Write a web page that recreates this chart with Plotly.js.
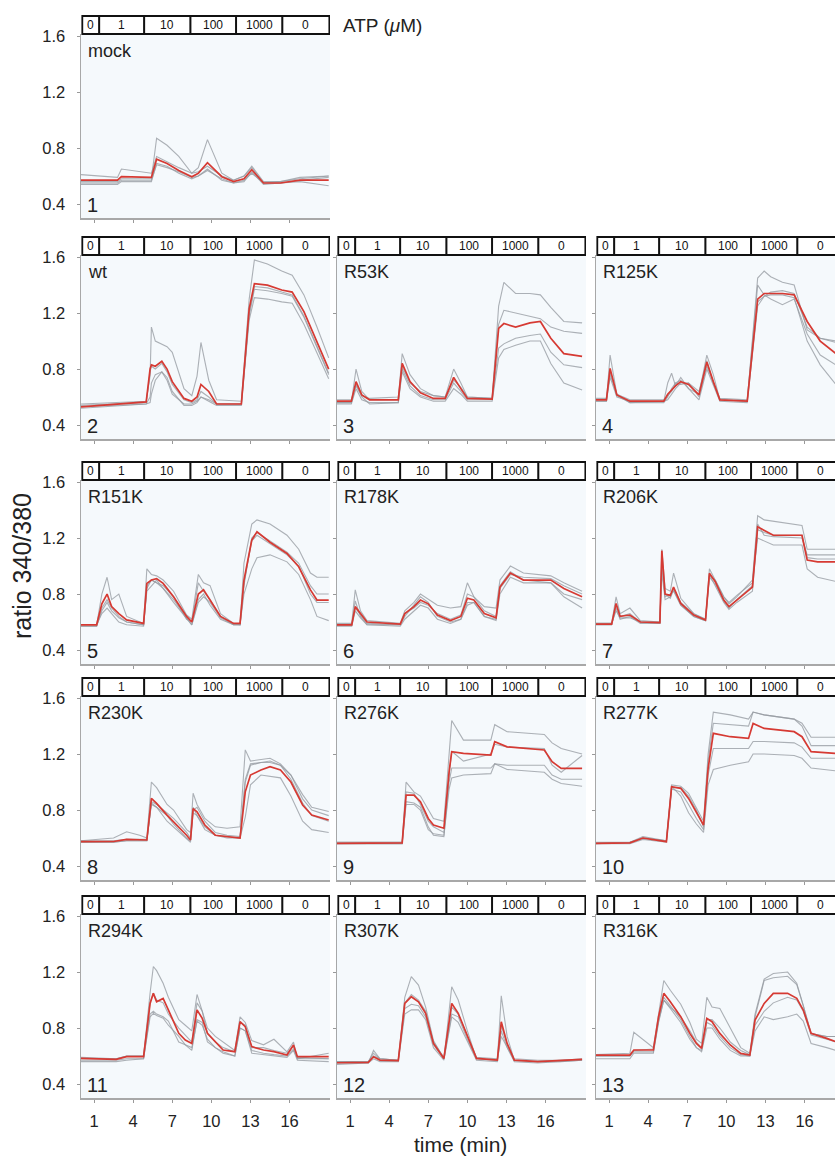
<!DOCTYPE html>
<html><head><meta charset="utf-8">
<script src="https://cdn.plot.ly/plotly-3.0.1.min.js"></script>
<style>html,body{margin:0;padding:0;overflow:hidden;background:#fff}#wrap{width:835px;height:1157px;overflow:hidden}#chart{width:845px;height:1157px}</style>
</head><body><div id="wrap"><div id="chart"></div></div>
<script>
// ---------- labels ----------
const panelNames = ['mock','wt','R53K','R125K','R151K','R178K','R206K','R230K','R276K','R277K','R294K','R307K','R316K'];
const panelNumbers = ['1','2','3','4','5','6','7','8','9','10','11','12','13'];
const atpLabels = ['0','1','10','100','1000','0'];
const atpEdges = [0.1, 1.4, 4.85, 8.4, 11.9, 15.45, 19.05];   // minutes
const xTickVals = [1,4,7,10,13,16];
const xTickText = ['1','4','7','10','13','16'];
const yTickVals = [0.4,0.8,1.2,1.6];
const yTickText = ['0.4','0.8','1.2','1.6'];

// ---------- data (ratio 340/380 vs time, min) ----------
const t_mock = [0, 2.8, 3.1, 5.4, 5.8, 6.6, 7.5, 8.5, 9.0, 9.7, 10.8, 11.7, 12.5, 13.1, 14.0, 15.3, 16.8, 19];
const mock_mean = [0.57, 0.57, 0.595, 0.59, 0.72, 0.69, 0.64, 0.595, 0.62, 0.695, 0.595, 0.56, 0.58, 0.645, 0.55, 0.55, 0.57, 0.57];
const mock_g1 = [0.56, 0.56, 0.58, 0.58, 0.87, 0.82, 0.74, 0.62, 0.66, 0.86, 0.62, 0.57, 0.60, 0.66, 0.55, 0.55, 0.56, 0.53];
const mock_g2 = [0.61, 0.59, 0.65, 0.62, 0.74, 0.70, 0.66, 0.62, 0.63, 0.67, 0.60, 0.57, 0.60, 0.67, 0.56, 0.56, 0.58, 0.60];
const mock_g3 = [0.55, 0.55, 0.57, 0.57, 0.68, 0.66, 0.63, 0.59, 0.60, 0.64, 0.58, 0.55, 0.57, 0.62, 0.55, 0.56, 0.59, 0.60];
const mock_g4 = [0.54, 0.54, 0.56, 0.56, 0.69, 0.67, 0.62, 0.58, 0.60, 0.65, 0.57, 0.55, 0.56, 0.63, 0.54, 0.55, 0.57, 0.59];

const t_wt = [0, 3, 5.0, 5.3, 5.4, 5.7, 6.2, 6.6, 7.0, 7.9, 8.5, 8.9, 9.2, 9.8, 10.4, 12.3, 12.9, 13.3, 14.3, 15.4, 16.2, 17.1, 18.1, 19];
const wt_mean = [0.53, 0.55, 0.565, 0.80, 0.83, 0.82, 0.855, 0.80, 0.71, 0.59, 0.57, 0.60, 0.69, 0.64, 0.55, 0.55, 1.23, 1.41, 1.40, 1.365, 1.35, 1.21, 1.0, 0.80];
const wt_g1 = [0.55, 0.56, 0.57, 0.75, 1.10, 1.0, 0.98, 0.96, 0.92, 0.66, 0.61, 0.75, 0.99, 0.72, 0.58, 0.57, 1.30, 1.58, 1.55, 1.50, 1.47, 1.33, 1.10, 0.88];
const wt_g2 = [0.52, 0.54, 0.55, 0.56, 0.62, 0.72, 0.78, 0.74, 0.64, 0.54, 0.54, 0.56, 0.60, 0.57, 0.54, 0.54, 1.15, 1.31, 1.30, 1.28, 1.27, 1.12, 0.92, 0.73];
const wt_g3 = [0.54, 0.55, 0.56, 0.78, 0.82, 0.80, 0.84, 0.78, 0.69, 0.58, 0.56, 0.58, 0.64, 0.60, 0.55, 0.55, 1.20, 1.39, 1.38, 1.35, 1.33, 1.18, 0.97, 0.77];
const wt_g4 = [0.53, 0.54, 0.55, 0.60, 0.70, 0.76, 0.78, 0.72, 0.62, 0.55, 0.55, 0.57, 0.60, 0.58, 0.55, 0.55, 1.18, 1.37, 1.36, 1.34, 1.32, 1.17, 0.95, 0.76];

const t_r53 = [0, 1.1, 1.46, 1.9, 2.5, 4.7, 5.0, 5.6, 6.4, 7.4, 8.3, 8.95, 9.5, 10.0, 11.9, 12.4, 12.8, 13.7, 14.8, 15.6, 16.4, 17.4, 18.8];
const r53_mean = [0.57, 0.57, 0.71, 0.615, 0.58, 0.58, 0.84, 0.71, 0.63, 0.59, 0.59, 0.74, 0.66, 0.59, 0.585, 1.09, 1.125, 1.10, 1.13, 1.14, 1.02, 0.91, 0.89];
const r53_g1 = [0.56, 0.56, 0.80, 0.64, 0.58, 0.58, 0.91, 0.76, 0.66, 0.61, 0.60, 0.80, 0.70, 0.60, 0.59, 1.25, 1.42, 1.34, 1.34, 1.33, 1.24, 1.14, 1.13];
const r53_g2 = [0.58, 0.58, 0.69, 0.61, 0.59, 0.60, 0.82, 0.70, 0.64, 0.61, 0.60, 0.72, 0.67, 0.60, 0.59, 1.12, 1.22, 1.20, 1.18, 1.16, 1.10, 1.07, 1.055];
const r53_g3 = [0.55, 0.55, 0.66, 0.58, 0.56, 0.56, 0.80, 0.68, 0.61, 0.58, 0.58, 0.70, 0.64, 0.58, 0.58, 0.95, 0.98, 1.02, 1.04, 1.05, 0.92, 0.83, 0.81];
const r53_g4 = [0.56, 0.56, 0.68, 0.60, 0.55, 0.56, 0.78, 0.66, 0.60, 0.57, 0.57, 0.66, 0.62, 0.57, 0.57, 0.88, 0.94, 0.97, 1.00, 1.00, 0.84, 0.70, 0.65];

const t_r125 = [0, 0.8, 1.08, 1.6, 2.6, 5.2, 5.5, 5.8, 6.1, 6.5, 7.1, 7.9, 8.5, 9.0, 9.5, 11.6, 12.4, 12.9, 13.4, 14.3, 15.2, 16.2, 17.2, 18.4];
const r125_mean = [0.58, 0.58, 0.805, 0.615, 0.57, 0.57, 0.62, 0.65, 0.68, 0.71, 0.69, 0.615, 0.85, 0.71, 0.58, 0.57, 1.30, 1.34, 1.34, 1.34, 1.33, 1.14, 1.0, 0.91];
const r125_g1 = [0.57, 0.57, 0.90, 0.62, 0.56, 0.57, 0.70, 0.77, 0.68, 0.74, 0.66, 0.62, 0.90, 0.76, 0.58, 0.57, 1.45, 1.50, 1.46, 1.42, 1.40, 1.08, 1.02, 0.99];
const r125_g2 = [0.59, 0.59, 0.76, 0.62, 0.58, 0.58, 0.61, 0.64, 0.70, 0.69, 0.70, 0.60, 0.82, 0.70, 0.59, 0.58, 1.40, 1.33, 1.30, 1.26, 1.30, 1.05, 0.90, 0.83];
const r125_g3 = [0.57, 0.57, 0.74, 0.60, 0.57, 0.57, 0.58, 0.62, 0.66, 0.70, 0.70, 0.64, 0.86, 0.70, 0.58, 0.57, 1.28, 1.32, 1.33, 1.33, 1.31, 1.00, 0.83, 0.69];
const r125_g4 = [0.58, 0.58, 0.78, 0.61, 0.56, 0.56, 0.60, 0.66, 0.70, 0.72, 0.66, 0.58, 0.80, 0.68, 0.57, 0.56, 1.25, 1.32, 1.35, 1.36, 1.34, 1.10, 1.02, 1.0];

const t_r151 = [0, 1.2, 1.6, 2.0, 2.35, 2.9, 3.5, 4.8, 5.05, 5.4, 5.8, 6.3, 7.1, 8.1, 8.5, 9.0, 9.4, 9.9, 10.7, 11.7, 12.2, 12.5, 13.1, 13.5, 14.5, 15.8, 16.7, 17.6, 18.1, 19];
const r151_mean = [0.58, 0.58, 0.73, 0.80, 0.71, 0.66, 0.615, 0.59, 0.876, 0.90, 0.91, 0.876, 0.78, 0.64, 0.60, 0.80, 0.83, 0.757, 0.64, 0.59, 0.59, 0.90, 1.186, 1.245, 1.17, 1.09, 0.995, 0.83, 0.757, 0.757];
const r151_g1 = [0.58, 0.58, 0.80, 0.92, 0.76, 0.80, 0.64, 0.59, 0.98, 0.94, 0.93, 0.90, 0.82, 0.65, 0.62, 0.94, 0.88, 0.86, 0.66, 0.59, 0.58, 1.02, 1.30, 1.33, 1.30, 1.22, 1.12, 0.95, 0.92, 0.92];
const r151_g2 = [0.57, 0.57, 0.70, 0.76, 0.70, 0.64, 0.60, 0.58, 0.86, 0.90, 0.88, 0.86, 0.78, 0.62, 0.60, 0.88, 0.82, 0.76, 0.64, 0.58, 0.58, 0.86, 1.20, 1.24, 1.18, 1.10, 1.02, 0.86, 0.80, 0.80];
const r151_g3 = [0.58, 0.58, 0.66, 0.70, 0.66, 0.60, 0.58, 0.57, 0.84, 0.90, 0.88, 0.84, 0.74, 0.62, 0.58, 0.76, 0.80, 0.72, 0.62, 0.58, 0.58, 0.80, 0.98, 1.06, 1.08, 1.03, 0.94, 0.76, 0.64, 0.61];
const r151_g4 = [0.57, 0.57, 0.68, 0.74, 0.68, 0.63, 0.60, 0.58, 0.82, 0.86, 0.90, 0.84, 0.76, 0.63, 0.58, 0.74, 0.78, 0.74, 0.63, 0.58, 0.58, 0.88, 1.18, 1.22, 1.16, 1.08, 1.0, 0.80, 0.74, 0.74];

const t_r178 = [0, 1.13, 1.4, 1.8, 2.3, 4.85, 5.2, 5.9, 6.4, 7.0, 7.7, 8.7, 9.5, 10.0, 10.5, 11.3, 12.2, 12.5, 13.3, 14.3, 16.4, 17.4, 18.8];
const r178_mean = [0.58, 0.58, 0.71, 0.66, 0.60, 0.585, 0.66, 0.71, 0.757, 0.73, 0.65, 0.61, 0.64, 0.77, 0.757, 0.66, 0.63, 0.85, 0.95, 0.90, 0.90, 0.84, 0.78];
const r178_g1 = [0.59, 0.59, 0.83, 0.68, 0.61, 0.59, 0.68, 0.74, 0.80, 0.76, 0.72, 0.70, 0.71, 0.88, 0.78, 0.71, 0.70, 0.90, 1.0, 0.95, 0.93, 0.88, 0.82];
const r178_g2 = [0.575, 0.575, 0.75, 0.64, 0.58, 0.58, 0.64, 0.72, 0.78, 0.74, 0.64, 0.60, 0.62, 0.74, 0.74, 0.64, 0.62, 0.86, 0.96, 0.90, 0.88, 0.80, 0.76];
const r178_g3 = [0.57, 0.57, 0.68, 0.63, 0.58, 0.57, 0.62, 0.68, 0.72, 0.70, 0.62, 0.59, 0.62, 0.72, 0.74, 0.64, 0.61, 0.80, 0.92, 0.88, 0.88, 0.78, 0.70];
const r178_g4 = [0.58, 0.58, 0.70, 0.65, 0.59, 0.58, 0.66, 0.70, 0.74, 0.72, 0.66, 0.62, 0.65, 0.80, 0.78, 0.68, 0.64, 0.84, 0.94, 0.92, 0.91, 0.86, 0.80];

const t_r206 = [0, 1.2, 1.54, 1.85, 2.6, 3.4, 4.9, 5.05, 5.3, 5.7, 5.95, 6.5, 7.5, 8.4, 8.7, 9.15, 9.8, 10.2, 10.8, 12.0, 12.4, 12.9, 13.6, 15.8, 16.2, 17.0, 18.4];
const r206_mean = [0.585, 0.585, 0.733, 0.64, 0.65, 0.60, 0.595, 1.11, 0.80, 0.79, 0.85, 0.733, 0.65, 0.614, 0.948, 0.888, 0.757, 0.71, 0.757, 0.85, 1.28, 1.257, 1.22, 1.22, 1.043, 1.03, 1.03];
const r206_g1 = [0.59, 0.59, 0.78, 0.66, 0.70, 0.61, 0.60, 1.12, 0.84, 0.82, 0.95, 0.77, 0.66, 0.62, 0.98, 0.90, 0.78, 0.73, 0.78, 0.90, 1.36, 1.33, 1.32, 1.29, 1.12, 1.12, 1.12];
const r206_g2 = [0.58, 0.58, 0.70, 0.62, 0.64, 0.59, 0.59, 1.0, 0.78, 0.80, 0.82, 0.72, 0.64, 0.61, 0.92, 0.87, 0.75, 0.70, 0.76, 0.86, 1.30, 1.22, 1.21, 1.20, 1.08, 1.08, 1.08];
const r206_g3 = [0.59, 0.59, 0.68, 0.63, 0.63, 0.60, 0.60, 0.95, 0.76, 0.78, 0.84, 0.74, 0.66, 0.62, 0.93, 0.90, 0.78, 0.74, 0.79, 0.88, 1.20, 1.18, 1.15, 1.15, 0.98, 0.92, 0.89];
const r206_g4 = [0.58, 0.58, 0.72, 0.64, 0.66, 0.60, 0.59, 1.05, 0.80, 0.77, 0.83, 0.72, 0.64, 0.61, 0.94, 0.86, 0.74, 0.69, 0.74, 0.82, 1.26, 1.24, 1.22, 1.22, 1.06, 1.05, 1.05];

const t_r230 = [0, 2.5, 3.5, 4.5, 5.05, 5.4, 5.8, 6.6, 7.1, 8.1, 8.4, 8.6, 8.9, 9.5, 10.3, 11.2, 12.2, 12.6, 13.0, 13.8, 14.5, 15.3, 16.1, 17.0, 17.7, 19];
const r230_mean = [0.574, 0.575, 0.59, 0.585, 0.586, 0.883, 0.848, 0.764, 0.717, 0.62, 0.586, 0.81, 0.788, 0.693, 0.62, 0.61, 0.60, 0.93, 1.05, 1.086, 1.11, 1.086, 1.0, 0.836, 0.764, 0.729];
const r230_g1 = [0.58, 0.60, 0.645, 0.62, 0.60, 1.0, 0.96, 0.84, 0.80, 0.66, 0.64, 0.92, 0.84, 0.74, 0.68, 0.67, 0.68, 1.23, 1.15, 1.16, 1.17, 1.13, 1.05, 0.91, 0.82, 0.79];
const r230_g2 = [0.57, 0.57, 0.58, 0.58, 0.58, 0.86, 0.84, 0.78, 0.74, 0.64, 0.60, 0.80, 0.82, 0.72, 0.64, 0.62, 0.61, 1.0, 1.12, 1.14, 1.15, 1.12, 1.05, 0.88, 0.80, 0.76];
const r230_g3 = [0.58, 0.58, 0.59, 0.59, 0.59, 0.84, 0.82, 0.76, 0.70, 0.60, 0.58, 0.78, 0.76, 0.68, 0.62, 0.61, 0.60, 0.75, 0.98, 1.05, 1.04, 1.03, 0.90, 0.72, 0.66, 0.64];
const r230_g4 = [0.57, 0.57, 0.58, 0.58, 0.58, 0.85, 0.82, 0.72, 0.68, 0.60, 0.57, 0.82, 0.76, 0.66, 0.62, 0.60, 0.60, 1.02, 1.13, 1.14, 1.14, 1.12, 1.02, 0.85, 0.76, 0.72];

const t_r276 = [0, 5.0, 5.3, 5.9, 6.4, 7.0, 7.4, 8.2, 8.6, 8.8, 9.7, 11.8, 12.1, 13.05, 15.9, 16.5, 17.2, 18.8];
const r276_mean = [0.562, 0.565, 0.907, 0.907, 0.86, 0.74, 0.693, 0.67, 1.074, 1.217, 1.205, 1.193, 1.288, 1.252, 1.229, 1.145, 1.098, 1.098];
const r276_g1 = [0.57, 0.57, 1.0, 0.93, 0.90, 0.80, 0.74, 0.72, 1.20, 1.44, 1.30, 1.30, 1.41, 1.36, 1.34, 1.28, 1.24, 1.20];
const r276_g2 = [0.56, 0.56, 0.93, 0.92, 0.84, 0.72, 0.68, 0.64, 1.05, 1.22, 1.15, 1.20, 1.27, 1.25, 1.24, 1.12, 1.07, 1.19];
const r276_g3 = [0.57, 0.57, 0.86, 0.85, 0.82, 0.68, 0.62, 0.61, 1.0, 1.10, 1.10, 1.10, 1.13, 1.12, 1.12, 1.05, 1.02, 1.02];
const r276_g4 = [0.56, 0.56, 0.84, 0.84, 0.80, 0.66, 0.63, 0.62, 0.95, 1.03, 1.05, 1.06, 1.13, 1.09, 1.07, 1.02, 0.99, 0.97];

const t_r277 = [0, 2.6, 3.6, 5.4, 5.8, 6.5, 7.1, 7.7, 8.25, 8.6, 9.0, 10.3, 11.7, 12.05, 12.9, 15.2, 15.8, 16.5, 18.4];
const r277_mean = [0.562, 0.565, 0.60, 0.574, 0.967, 0.955, 0.883, 0.788, 0.693, 1.098, 1.348, 1.324, 1.312, 1.419, 1.383, 1.36, 1.324, 1.217, 1.205];
const r277_g1 = [0.56, 0.57, 0.61, 0.58, 0.98, 0.97, 0.92, 0.82, 0.72, 1.20, 1.50, 1.48, 1.45, 1.50, 1.48, 1.45, 1.42, 1.32, 1.32];
const r277_g2 = [0.565, 0.57, 0.60, 0.58, 0.96, 0.96, 0.90, 0.80, 0.68, 1.15, 1.42, 1.41, 1.40, 1.50, 1.48, 1.45, 1.40, 1.26, 1.26];
const r277_g3 = [0.56, 0.56, 0.59, 0.57, 0.95, 0.93, 0.84, 0.74, 0.66, 1.05, 1.24, 1.24, 1.24, 1.29, 1.29, 1.28, 1.25, 1.17, 1.17];
const r277_g4 = [0.57, 0.57, 0.60, 0.58, 0.97, 0.90, 0.78, 0.70, 0.64, 0.98, 1.09, 1.12, 1.145, 1.20, 1.20, 1.19, 1.17, 1.10, 1.08];

const t_r294 = [0, 2.7, 3.5, 4.8, 5.3, 5.55, 5.8, 6.3, 6.7, 7.5, 8.0, 8.5, 8.9, 9.3, 9.7, 10.3, 10.9, 11.8, 12.2, 12.6, 13.1, 14.0, 14.8, 15.8, 16.3, 16.6, 19];
const r294_mean = [0.583, 0.576, 0.595, 0.595, 0.976, 1.048, 0.988, 1.012, 0.93, 0.762, 0.714, 0.69, 0.93, 0.869, 0.762, 0.702, 0.643, 0.631, 0.845, 0.81, 0.667, 0.643, 0.631, 0.607, 0.679, 0.595, 0.595];
const r294_g1 = [0.59, 0.58, 0.60, 0.60, 1.05, 1.24, 1.21, 1.12, 1.02, 0.86, 0.82, 0.78, 1.04, 0.92, 0.80, 0.74, 0.70, 0.64, 0.88, 0.84, 0.71, 0.68, 0.72, 0.63, 0.70, 0.58, 0.62];
const r294_g2 = [0.57, 0.57, 0.58, 0.58, 0.88, 0.905, 0.89, 0.87, 0.82, 0.74, 0.68, 0.64, 0.86, 0.84, 0.70, 0.66, 0.63, 0.60, 0.80, 0.78, 0.64, 0.62, 0.61, 0.60, 0.65, 0.58, 0.58];
const r294_g3 = [0.58, 0.58, 0.60, 0.60, 0.98, 1.05, 1.0, 0.98, 0.90, 0.80, 0.75, 0.70, 0.98, 0.92, 0.76, 0.70, 0.66, 0.63, 0.84, 0.82, 0.66, 0.66, 0.64, 0.62, 0.67, 0.59, 0.58];
const r294_g4 = [0.56, 0.56, 0.57, 0.58, 0.90, 0.92, 0.90, 0.88, 0.85, 0.70, 0.68, 0.66, 0.85, 0.82, 0.72, 0.66, 0.62, 0.60, 0.80, 0.78, 0.62, 0.61, 0.60, 0.59, 0.64, 0.57, 0.56];

const t_r307 = [0, 2.4, 2.8, 3.3, 4.7, 5.2, 5.7, 6.25, 6.8, 7.4, 8.2, 8.8, 9.3, 10.0, 10.7, 12.3, 12.6, 13.05, 13.6, 15.4, 17.2, 18.8];
const r307_mean = [0.552, 0.555, 0.595, 0.571, 0.567, 0.976, 1.024, 0.988, 0.905, 0.69, 0.583, 0.976, 0.905, 0.738, 0.583, 0.571, 0.845, 0.69, 0.571, 0.56, 0.567, 0.576];
const r307_g1 = [0.56, 0.56, 0.62, 0.58, 0.57, 1.02, 1.167, 1.107, 0.95, 0.71, 0.58, 1.095, 1.0, 0.78, 0.58, 0.57, 1.03, 0.74, 0.57, 0.56, 0.57, 0.575];
const r307_g2 = [0.55, 0.55, 0.58, 0.56, 0.56, 0.90, 0.93, 0.93, 0.86, 0.66, 0.57, 0.88, 0.84, 0.70, 0.57, 0.56, 0.78, 0.66, 0.56, 0.55, 0.56, 0.57];
const r307_g3 = [0.56, 0.56, 0.60, 0.58, 0.57, 0.98, 1.04, 1.0, 0.92, 0.70, 0.59, 0.95, 0.90, 0.74, 0.59, 0.58, 0.82, 0.68, 0.58, 0.57, 0.57, 0.58];
const r307_g4 = [0.54, 0.55, 0.64, 0.58, 0.57, 0.94, 0.97, 0.96, 0.88, 0.68, 0.58, 0.90, 0.88, 0.72, 0.58, 0.57, 0.74, 0.66, 0.57, 0.56, 0.56, 0.57];

const t_r316 = [0, 2.6, 2.9, 4.4, 4.8, 5.2, 5.7, 6.5, 7.2, 7.7, 8.1, 8.5, 8.9, 9.5, 10.3, 11.1, 11.8, 12.2, 12.9, 13.6, 14.7, 15.4, 15.9, 16.5, 17.7, 18.4];
const r316_mean = [0.607, 0.607, 0.643, 0.643, 0.881, 1.048, 0.988, 0.881, 0.762, 0.69, 0.655, 0.869, 0.845, 0.762, 0.679, 0.619, 0.607, 0.857, 0.976, 1.048, 1.048, 1.012, 0.929, 0.762, 0.726, 0.702];
const r316_g1 = [0.61, 0.62, 0.77, 0.66, 0.90, 1.14, 1.07, 0.97, 0.84, 0.72, 0.69, 1.02, 0.95, 0.94, 0.80, 0.66, 0.62, 0.90, 1.15, 1.19, 1.20, 1.12, 0.96, 0.76, 0.74, 0.74];
const r316_g2 = [0.60, 0.60, 0.64, 0.65, 0.86, 1.02, 0.96, 0.86, 0.74, 0.66, 0.64, 0.84, 0.82, 0.74, 0.66, 0.61, 0.60, 0.88, 1.14, 1.16, 1.17, 1.11, 0.96, 0.76, 0.74, 0.74];
const r316_g3 = [0.58, 0.58, 0.62, 0.62, 0.84, 1.0, 0.94, 0.84, 0.72, 0.66, 0.63, 0.80, 0.80, 0.72, 0.64, 0.60, 0.60, 0.78, 0.88, 0.86, 0.88, 0.90, 0.85, 0.69, 0.66, 0.64];
const r316_g4 = [0.60, 0.60, 0.63, 0.63, 0.85, 1.0, 0.95, 0.88, 0.78, 0.70, 0.66, 0.86, 0.86, 0.80, 0.70, 0.64, 0.61, 0.82, 0.92, 0.98, 1.02, 1.0, 0.92, 0.75, 0.72, 0.70];

const panels = [
  {t: t_mock, mean: mock_mean, grays: [mock_g1, mock_g2, mock_g3, mock_g4]},
  {t: t_wt, mean: wt_mean, grays: [wt_g1, wt_g2, wt_g3, wt_g4]},
  {t: t_r53, mean: r53_mean, grays: [r53_g1, r53_g2, r53_g3, r53_g4]},
  {t: t_r125, mean: r125_mean, grays: [r125_g1, r125_g2, r125_g3, r125_g4]},
  {t: t_r151, mean: r151_mean, grays: [r151_g1, r151_g2, r151_g3, r151_g4]},
  {t: t_r178, mean: r178_mean, grays: [r178_g1, r178_g2, r178_g3, r178_g4]},
  {t: t_r206, mean: r206_mean, grays: [r206_g1, r206_g2, r206_g3, r206_g4]},
  {t: t_r230, mean: r230_mean, grays: [r230_g1, r230_g2, r230_g3, r230_g4]},
  {t: t_r276, mean: r276_mean, grays: [r276_g1, r276_g2, r276_g3, r276_g4]},
  {t: t_r277, mean: r277_mean, grays: [r277_g1, r277_g2, r277_g3, r277_g4]},
  {t: t_r294, mean: r294_mean, grays: [r294_g1, r294_g2, r294_g3, r294_g4]},
  {t: t_r307, mean: r307_mean, grays: [r307_g1, r307_g2, r307_g3, r307_g4]},
  {t: t_r316, mean: r316_mean, grays: [r316_g1, r316_g2, r316_g3, r316_g4]}
];

// ---------- layout geometry ----------
const W = 845, H = 1157;
const colLeft = [81, 337, 596];
const colWidth = 249;
const rowY16 = [36, 257, 482, 698, 916];   // pixel row of the 1.6 level
const cells = [[0,0],[1,0],[1,1],[1,2],[2,0],[2,1],[2,2],[3,0],[3,1],[3,2],[4,0],[4,1],[4,2]];
const px = v => v / W;
const py = v => 1 - v / H;
const FONT = 'Liberation Sans, Arial, Helvetica, sans-serif';

const layout = {
  width: W, height: H,
  margin: {l: 0, r: 0, t: 0, b: 0},
  paper_bgcolor: '#ffffff',
  plot_bgcolor: '#f5f9fc',
  showlegend: false,
  font: {family: FONT, size: 16, color: '#222'},
  shapes: [],
  annotations: []
};
const data = [];

panels.forEach((p, i) => {
  const n = i + 1;
  const sfx = n === 1 ? '' : String(n);
  const [r, c] = cells[i];
  const y16 = rowY16[r];
  layout['xaxis' + sfx] = {
    domain: [px(colLeft[c]), px(colLeft[c] + colWidth)],
    range: [0, 19.1], anchor: 'y' + sfx,
    tickmode: 'array', tickvals: xTickVals, ticktext: xTickText,
    showticklabels: r === 4,
    ticks: 'outside', ticklen: 3, tickwidth: 1, tickcolor: '#999',
    showline: true, linecolor: '#a8a8a8', linewidth: 1.5,
    showgrid: false, zeroline: false, fixedrange: true,
    tickfont: {size: 16.5, color: '#222'}, ticklabelstandoff: 5
  };
  layout['yaxis' + sfx] = {
    domain: [py(y16 + 182), py(y16 - 2)],
    range: [0.3, 1.615], anchor: 'x' + sfx,
    tickmode: 'array', tickvals: yTickVals, ticktext: yTickText,
    showticklabels: c === 0,
    ticks: 'outside', ticklen: 3, tickwidth: 1, tickcolor: '#999',
    showline: true, linecolor: '#a8a8a8', linewidth: 1.5,
    showgrid: false, zeroline: false, fixedrange: true,
    tickfont: {size: 16.5, color: '#222'}, ticklabelstandoff: 8
  };
  p.grays.forEach(g => data.push({
    x: p.t, y: g, xaxis: 'x' + sfx, yaxis: 'y' + sfx, type: 'scatter', mode: 'lines',
    line: {color: 'rgba(150,155,161,0.78)', width: 1.1}, hoverinfo: 'skip'
  }));
  data.push({
    x: p.t, y: p.mean, xaxis: 'x' + sfx, yaxis: 'y' + sfx, type: 'scatter', mode: 'lines',
    line: {color: '#d63a33', width: 1.7}, hoverinfo: 'skip'
  });
  // ATP concentration bar
  for (let k = 0; k < atpLabels.length; k++) {
    layout.shapes.push({
      type: 'rect', xref: 'x' + sfx, yref: 'paper',
      x0: atpEdges[k], x1: atpEdges[k + 1], y0: py(y16 - 2), y1: py(y16 - 20),
      line: {color: '#111', width: 1.8}, fillcolor: '#ffffff', layer: 'above'
    });
    layout.annotations.push({
      xref: 'x' + sfx, yref: 'paper', x: (atpEdges[k] + atpEdges[k + 1]) / 2, y: py(y16 - 11),
      text: atpLabels[k], showarrow: false, xanchor: 'center', yanchor: 'middle',
      font: {family: FONT, size: 12, color: '#111'}
    });
  }
  layout.annotations.push({
    xref: 'paper', yref: 'paper', x: px(colLeft[c] + 5), y: py(y16 + 15),
    text: panelNames[i], showarrow: false, xanchor: 'left', yanchor: 'middle',
    font: {family: FONT, size: 18, color: '#222'}
  });
  layout.annotations.push({
    xref: 'paper', yref: 'paper', x: px(colLeft[c] + 4), y: py(y16 + 169),
    text: panelNumbers[i], showarrow: false, xanchor: 'left', yanchor: 'middle',
    font: {family: FONT, size: 20, color: '#222'}
  });
});

layout.annotations.push({
  xref: 'paper', yref: 'paper', x: px(341), y: py(25), xanchor: 'left', yanchor: 'middle',
  text: 'ATP (<i>μ</i>M)', showarrow: false, font: {family: FONT, size: 19, color: '#222'}
});
layout.annotations.push({
  xref: 'paper', yref: 'paper', x: px(22), y: py(566), xanchor: 'center', yanchor: 'middle',
  text: 'ratio 340/380', textangle: -90, showarrow: false, font: {family: FONT, size: 25, color: '#222'}
});
layout.annotations.push({
  xref: 'paper', yref: 'paper', x: px(460), y: py(1144), xanchor: 'center', yanchor: 'middle',
  text: 'time (min)', showarrow: false, font: {family: FONT, size: 21, color: '#222'}
});

Plotly.newPlot('chart', data, layout, {displayModeBar: false, staticPlot: true});
</script>
</body></html>
